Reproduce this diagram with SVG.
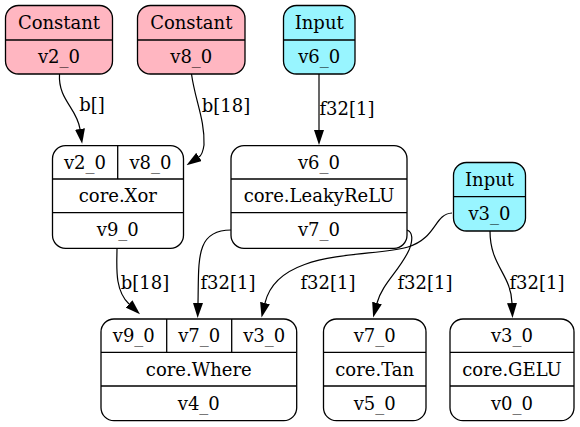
<svg xmlns="http://www.w3.org/2000/svg" width="580" height="427" viewBox="0 0 580 427">
<style>
  .box { stroke: #000; stroke-width: 1.3; }
  .const { fill: #ffb6c1; }
  .input { fill: #98f5ff; }
  .op { fill: #fff; }
  .sep { stroke: #000; stroke-width: 1.3; fill: none; }
  text { font-family: "DejaVu Serif", "Liberation Serif", serif; font-size: 18px; fill: #000; text-anchor: middle; }
  .edge { fill: none; stroke: #000; stroke-width: 1.2; }
</style>
<defs>
  <marker id="arrow" viewBox="0 0 15 10" refX="0" refY="5" markerWidth="15" markerHeight="10" markerUnits="userSpaceOnUse" orient="auto">
    <path d="M0,0 L15,5 L0,10 Z" fill="#000"/>
  </marker>
</defs>

<g id="connectors">
  <!-- v2_0 -> Xor.v2_0 -->
  <path class="edge" d="M59.5,74 C58,100 77,108 80,129" marker-end="url(#arrow)"/>
  <text x="92" y="111">b[]</text>
  <!-- v8_0 -> Xor.v8_0 -->
  <path class="edge" d="M191.5,74 C195,100 205,120 204,145 C203,152 202,155 199,157" marker-end="url(#arrow)"/>
  <text x="226" y="112">b[18]</text>
  <!-- v6_0 -> LeakyReLU -->
  <path class="edge" d="M319,74 L319,130" marker-end="url(#arrow)"/>
  <text x="347" y="115">f32[1]</text>
  <!-- v9_0 -> Where.v9_0 -->
  <path class="edge" d="M117,248 C117,265 114,290 129,304" marker-end="url(#arrow)"/>
  <text x="145" y="289">b[18]</text>
  <!-- v7_0 -> Where.v7_0 -->
  <path class="edge" d="M231,230 C195,230 199,260 198,303" marker-end="url(#arrow)"/>
  <text x="228" y="289">f32[1]</text>
  <!-- v3_0 -> Where.v3_0 -->
  <path class="edge" d="M452,213 C434,214 437,238 408,247 C370,258 278,248 265,303" marker-end="url(#arrow)"/>
  <text x="328" y="289">f32[1]</text>
  <!-- v7_0 -> Tan -->
  <path class="edge" d="M407,230 C413,232 413,240 409,250 C400,270 382,284 377,303" marker-end="url(#arrow)"/>
  <text x="425" y="289">f32[1]</text>
  <!-- v3_0 -> GELU -->
  <path class="edge" d="M490,231 C490,266 511,274 512,303" marker-end="url(#arrow)"/>
  <text x="537" y="289">f32[1]</text>
</g>

<g id="v2_0">
  <rect class="box const" x="5.5" y="5.5" width="107" height="68.5" rx="13"/>
  <line class="sep" x1="5.5" y1="40" x2="112.5" y2="40"/>
  <text x="59" y="29">Constant</text>
  <text x="59" y="63">v2_0</text>
</g>

<g id="v8_0">
  <rect class="box const" x="137.5" y="5.5" width="107.5" height="68.5" rx="13"/>
  <line class="sep" x1="137.5" y1="40" x2="245" y2="40"/>
  <text x="191.3" y="29">Constant</text>
  <text x="191.3" y="63">v8_0</text>
</g>

<g id="v6_0">
  <rect class="box input" x="283.5" y="5.5" width="71.5" height="68.5" rx="13"/>
  <line class="sep" x1="283.5" y1="40" x2="355" y2="40"/>
  <text x="319.2" y="29">Input</text>
  <text x="319.2" y="63">v6_0</text>
</g>

<g id="v3_0">
  <rect class="box input" x="453.5" y="162.5" width="72" height="68.5" rx="13"/>
  <line class="sep" x1="453.5" y1="196.7" x2="525.5" y2="196.7"/>
  <text x="489.5" y="186">Input</text>
  <text x="489.5" y="220">v3_0</text>
</g>

<g id="v9_0">
  <rect class="box op" x="52.5" y="145.7" width="131" height="102.6" rx="13"/>
  <line class="sep" x1="52.5" y1="179" x2="183.5" y2="179"/>
  <line class="sep" x1="52.5" y1="212.7" x2="183.5" y2="212.7"/>
  <line class="sep" x1="117.7" y1="145.7" x2="117.7" y2="179"/>
  <text x="85" y="168.5">v2_0</text>
  <text x="150.5" y="168.5">v8_0</text>
  <text x="117.8" y="202">core.Xor</text>
  <text x="117.8" y="236">v9_0</text>
</g>

<g id="v7_0">
  <rect class="box op" x="231" y="145.7" width="176" height="102.6" rx="13"/>
  <line class="sep" x1="231" y1="179" x2="407" y2="179"/>
  <line class="sep" x1="231" y1="212.7" x2="407" y2="212.7"/>
  <text x="319" y="168.5">v6_0</text>
  <text x="319" y="202">core.LeakyReLU</text>
  <text x="319" y="236">v7_0</text>
</g>

<g id="v4_0">
  <rect class="box op" x="101" y="319" width="195.7" height="101.7" rx="13"/>
  <line class="sep" x1="101" y1="352.3" x2="296.7" y2="352.3"/>
  <line class="sep" x1="101" y1="386" x2="296.7" y2="386"/>
  <line class="sep" x1="166.7" y1="319" x2="166.7" y2="352.3"/>
  <line class="sep" x1="231.7" y1="319" x2="231.7" y2="352.3"/>
  <text x="133.8" y="342">v9_0</text>
  <text x="199.2" y="342">v7_0</text>
  <text x="264.2" y="342">v3_0</text>
  <text x="198.8" y="375.5">core.Where</text>
  <text x="198.8" y="409.5">v4_0</text>
</g>

<g id="v5_0">
  <rect class="box op" x="323.5" y="319" width="102.5" height="101.7" rx="13"/>
  <line class="sep" x1="323.5" y1="352.3" x2="426" y2="352.3"/>
  <line class="sep" x1="323.5" y1="386" x2="426" y2="386"/>
  <text x="374.7" y="342">v7_0</text>
  <text x="374.7" y="375.5">core.Tan</text>
  <text x="374.7" y="409.5">v5_0</text>
</g>

<g id="v0_0">
  <rect class="box op" x="450" y="319" width="124" height="101.7" rx="13"/>
  <line class="sep" x1="450" y1="352.3" x2="574" y2="352.3"/>
  <line class="sep" x1="450" y1="386" x2="574" y2="386"/>
  <text x="512" y="342">v3_0</text>
  <text x="512" y="375.5">core.GELU</text>
  <text x="512" y="409.5">v0_0</text>
</g>
</svg>
